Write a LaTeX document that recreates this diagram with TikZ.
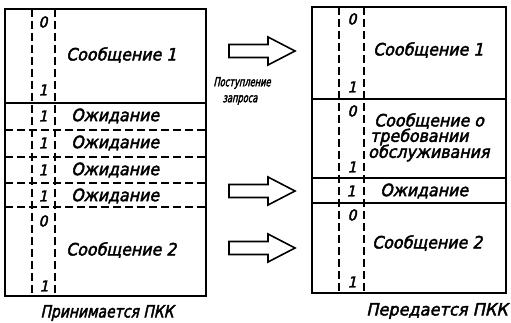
\documentclass[tikz,border=0pt]{standalone}
\usepackage{fontspec}
\setmainfont{DejaVu Sans}[FakeSlant=0.22]
\newfontfamily\narrowfont{DejaVu Sans}[FakeSlant=0.22,FakeStretch=0.66,FakeBold=2.5]
\newfontfamily\gostfont{DejaVu Sans}[FakeSlant=0.22,FakeStretch=0.93,FakeBold=2.5]
\newfontfamily\captfont{DejaVu Sans}[FakeSlant=0.22,FakeStretch=0.82,FakeBold=2.5]
\newfontfamily\captwidefont{DejaVu Sans}[FakeSlant=0.22,FakeStretch=0.95,FakeBold=2.5]
\begin{document}
\begin{tikzpicture}[x=1pt,y=-1pt,
  frame/.style={line width=1.7pt},
  sep/.style={line width=1.5pt},
  dsep/.style={line width=1.4pt, dash pattern=on 8pt off 4pt},
  txt/.style={font=\gostfont\fontsize{17}{18}\selectfont, inner sep=0pt, anchor=west},
  dig/.style={font=\gostfont\fontsize{15}{16}\selectfont, inner sep=0pt},
  small/.style={font=\narrowfont\fontsize{12.5}{13}\selectfont, inner sep=0pt},
  captext/.style={font=\captfont\fontsize{17}{18}\selectfont, inner sep=0pt},
  captwide/.style={font=\captwidefont\fontsize{17}{18}\selectfont, inner sep=0pt},
  blockarrow/.pic={\draw[line width=1.6pt, line join=miter]
      (-33,-6.5) -- (6,-6.5) -- (6,-14) -- (33,0) -- (6,14) -- (6,6.5) -- (-33,6.5) -- cycle;}
]
\useasboundingbox (0,0) rectangle (511,323);

% ---------- left box ----------
\draw[frame] (5,9) rectangle (206,296);
\draw[sep] (5,103) -- (206,103);
\foreach \y in {130,157,183,207} \draw[dsep] (5,\y) -- (206,\y);
\draw[dsep] (32,9) -- (32,296);
\draw[dsep] (55,9) -- (55,296);

\node[dig] (l0a) at (43,22) {0};
\node[dig] (l1a) at (43,90) {1};
\node[txt] (lm1) at (66,55) {Сообщение 1};
\node[dig] (lw1d) at (43,116) {1};
\node[txt] (lw1) at (71,116) {Ожидание};
\node[dig] (lw2d) at (43,143) {1};
\node[txt] (lw2) at (71,143) {Ожидание};
\node[dig] (lw3d) at (43,170) {1};
\node[txt] (lw3) at (71,170) {Ожидание};
\node[dig] (lw4d) at (43,196) {1};
\node[txt] (lw4) at (71,196) {Ожидание};
\node[dig] (l0b) at (43,221) {0};
\node[dig] (l1b) at (44,286) {1};
\node[txt] (lm2) at (66,250) {Сообщение 2};
\node[captext] (lcap) at (107,313) {Принимается ПКК};

% ---------- arrows ----------
\pic at (262,51) {blockarrow};
\pic at (262,191) {blockarrow};
\pic at (262,248) {blockarrow};
\node[small] (req1) at (242,83) {Поступление};
\node[small] (req2) at (240,100) {запроса};

% ---------- right box ----------
\draw[frame] (312,7) rectangle (506,293);
\draw[sep] (312,99) -- (506,99);
\draw[sep] (312,178) -- (506,178);
\draw[sep] (312,203) -- (506,203);
\draw[dsep] (339,7) -- (339,293);
\draw[dsep] (364,7) -- (364,293);

\node[dig] (r0a) at (352,19) {0};
\node[dig] (r1a) at (352,87) {1};
\node[txt] (rm1) at (373,50) {Сообщение 1};
\node[dig] (r0b) at (352,111) {0};
\node[dig] (r1b) at (352,167) {1};
\node[txt] (rt1) at (374,121) {Сообщение о};
\node[txt] (rt2) at (370,137) {требовании};
\node[txt] (rt3) at (368,153) {обслуживания};
\node[dig] (rwd) at (351,191) {1};
\node[txt] (rw) at (380,191) {Ожидание};
\node[dig] (r0c) at (352,215) {0};
\node[dig] (r1c) at (352,282) {1};
\node[txt] (rm2) at (372,243) {Сообщение 2};
\node[captwide] (rcap) at (437,311) {Передается ПКК};
\end{tikzpicture}
\end{document}
